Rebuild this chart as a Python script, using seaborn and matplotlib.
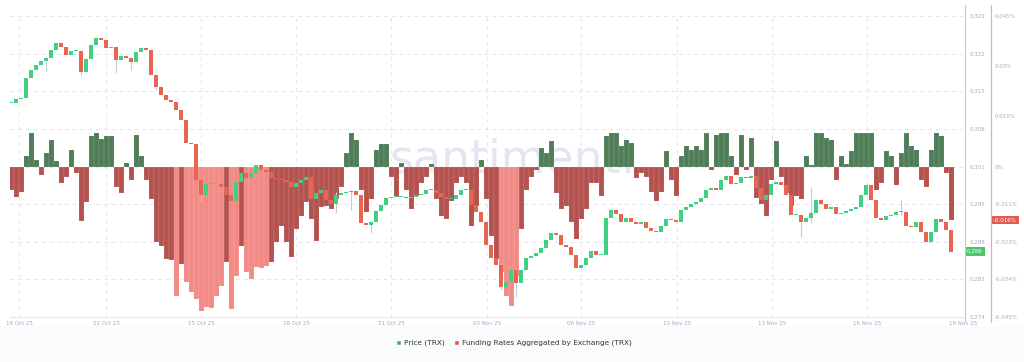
import numpy as np
import pandas as pd
import matplotlib
matplotlib.use("Agg")
import matplotlib.pyplot as plt
import matplotlib.transforms as mtransforms
from matplotlib.patches import Patch, Rectangle
from matplotlib.lines import Line2D
import seaborn as sns

# ---------------- data ----------------
price_close = [
    0.3131, 0.3138, 0.3140, 0.3177, 0.3191, 0.3200, 0.3208, 0.3213, 0.3228, 0.3241,
    0.3233, 0.3219, 0.3226, 0.3226, 0.3188, 0.3211, 0.3237, 0.3250, 0.3246, 0.3232,
    0.3233, 0.3210, 0.3217, 0.3213, 0.3206, 0.3224, 0.3232, 0.3228, 0.3182, 0.3160,
    0.3146, 0.3137, 0.3133, 0.3118, 0.3100, 0.3058, 0.3056, 0.2990, 0.2963, 0.2983,
    0.2983, 0.2983, 0.2978, 0.2963, 0.2952, 0.2987, 0.3003, 0.2994, 0.3003, 0.3018,
    0.3009, 0.3005, 0.2994, 0.2992, 0.2990, 0.2987, 0.2978, 0.2985, 0.2990, 0.2996,
    0.2956, 0.2967, 0.2972, 0.2954, 0.2947, 0.2963, 0.2967, 0.2968, 0.2970, 0.2963,
    0.2912, 0.2908, 0.2914, 0.2934, 0.2945, 0.2957, 0.2959, 0.2959, 0.2959, 0.2957,
    0.2959, 0.2963, 0.2965, 0.2972, 0.2972, 0.2967, 0.2959, 0.2956, 0.2956, 0.2963,
    0.2972, 0.2972, 0.2945, 0.2932, 0.2914, 0.2872, 0.2848, 0.2835, 0.2795, 0.2804,
    0.2826, 0.2802, 0.2826, 0.2848, 0.2852, 0.2857, 0.2866, 0.2881, 0.2894, 0.2890,
    0.2872, 0.2868, 0.2853, 0.2830, 0.2835, 0.2848, 0.2861, 0.2853, 0.2853, 0.2921,
    0.2936, 0.2928, 0.2914, 0.2921, 0.2914, 0.2910, 0.2914, 0.2903, 0.2897, 0.2895,
    0.2906, 0.2919, 0.2917, 0.2914, 0.2936, 0.2941, 0.2947, 0.2950, 0.2957, 0.2972,
    0.2976, 0.2972, 0.2990, 0.2998, 0.2983, 0.2985, 0.2996, 0.2994, 0.2998, 0.2976,
    0.2954, 0.2963, 0.2983, 0.2987, 0.2981, 0.2963, 0.2926, 0.2926, 0.2914, 0.2921,
    0.2930, 0.2954, 0.2947, 0.2937, 0.2941, 0.2928, 0.2930, 0.2934, 0.2937, 0.2941,
    0.2963, 0.2981, 0.2954, 0.2921, 0.2917, 0.2925, 0.2926, 0.2932, 0.2932, 0.2906,
    0.2904, 0.2914, 0.2895, 0.2877, 0.2895, 0.2919, 0.2914, 0.2899, 0.2859,
]

# notable candle wicks: index -> (low, high)
price_wicks = {
    7: (0.3188, 0.3215), 14: (0.3180, 0.3228), 21: (0.3186, 0.3234),
    24: (0.3191, 0.3215), 29: (0.3155, 0.3184), 38: (0.2950, 0.2992),
    65: (0.2930, 0.2968), 68: (0.2935, 0.2972), 72: (0.2894, 0.2916),
    98: (0.2789, 0.2836), 101: (0.2777, 0.2828), 158: (0.2886, 0.2928),
    160: (0.2912, 0.2978), 178: (0.2925, 0.2954),
}

# funding rate, percent
funding_rate = [
    -0.0070, -0.0092, -0.0075, 0.0030, 0.0100, 0.0020, -0.0024, 0.0040, 0.0080, 0.0015,
    -0.0048, -0.0030, 0.0050, -0.0020, -0.0164, -0.0107, 0.0090, 0.0100, 0.0083, 0.0090,
    0.0090, -0.0060, -0.0078, 0.0010, -0.0040, 0.0095, 0.0030, -0.0040, -0.0098, -0.0227,
    -0.0238, -0.0277, -0.0280, -0.0387, -0.0292, -0.0346, -0.0375, -0.0396, -0.0432, -0.0420,
    -0.0423, -0.0387, -0.0358, -0.0286, -0.0426, -0.0328, -0.0238, -0.0316, -0.0337, -0.0301,
    -0.0304, -0.0298, -0.0286, -0.0227, -0.0179, -0.0227, -0.0271, -0.0188, -0.0149, -0.0107,
    -0.0158, -0.0224, -0.0120, -0.0119, -0.0128, -0.0098, -0.0060, 0.0040, 0.0100, 0.0080,
    -0.0069, -0.0137, -0.0098, 0.0050, 0.0066, 0.0066, -0.0030, -0.0090, 0.0010, -0.0070,
    -0.0128, -0.0089, -0.0049, -0.0030, 0.0006, -0.0098, -0.0149, -0.0158, -0.0103, -0.0049,
    -0.0030, -0.0050, -0.0179, -0.0119, 0.0020, -0.0098, -0.0209, -0.0277, -0.0316, -0.0387,
    -0.0417, -0.0328, -0.0188, -0.0069, -0.0030, -0.0010, 0.0056, 0.0040, 0.0075, -0.0078,
    -0.0128, -0.0119, -0.0167, -0.0218, -0.0158, -0.0128, -0.0049, -0.0050, -0.0089, 0.0090,
    0.0100, 0.0100, 0.0060, 0.0080, 0.0070, -0.0035, -0.0020, -0.0030, -0.0075, -0.0103,
    -0.0075, 0.0046, -0.0040, -0.0089, 0.0030, 0.0060, 0.0050, 0.0060, 0.0050, 0.0100,
    -0.0010, 0.0095, 0.0100, 0.0100, 0.0030, -0.0024, 0.0095, -0.0010, 0.0085, -0.0093,
    -0.0113, -0.0149, -0.0040, 0.0075, -0.0030, -0.0078, -0.0119, -0.0089, -0.0098, 0.0030,
    0.0005, 0.0100, 0.0100, 0.0085, 0.0080, -0.0040, 0.0030, 0.0006, 0.0047, 0.0100,
    0.0100, 0.0100, 0.0100, -0.0069, -0.0050, 0.0046, 0.0030, -0.0054, 0.0040, 0.0100,
    0.0060, 0.0050, -0.0040, -0.0060, 0.0050, 0.0100, 0.0090, -0.0020, -0.0160,
]

date_labels = ["18 Oct 25", "22 Oct 25", "25 Oct 25", "28 Oct 25", "31 Oct 25", "03 Nov 25",
               "06 Nov 25", "10 Nov 25", "13 Nov 25", "16 Nov 25", "19 Nov 25"]
date_positions = [1.6, 19.0, 38.0, 57.0, 76.0, 95.2, 114.0, 133.2, 152.2, 171.2, 190.4]

price_ticks = [0.274, 0.280875, 0.28775, 0.294625, 0.3015, 0.308375, 0.31525, 0.322125, 0.329]
price_tick_labels = ["0.274", "0.281", "0.288", "0.295", "0.301", "0.308", "0.315", "0.322", "0.329"]
funding_ticks = [-0.045, -0.03375, -0.0225, -0.01125, 0.0, 0.015, 0.03, 0.045]
funding_tick_labels = ["-0.045%", "-0.034%", "-0.023%", "-0.011%", "0%", "0.015%", "0.03%", "0.045%"]

# ---------------- style ----------------
sns.set_theme(style="white")
plt.rcParams['font.family'] = ['DejaVu Sans']

W, H = 1024, 362
fig = plt.figure(figsize=(W / 100, H / 100), dpi=100)
fig.patch.set_facecolor("white")
fig.add_artist(Rectangle((0, 0), 1, 36 / H, transform=fig.transFigure,
                         facecolor="#fafbfc", edgecolor="none", zorder=0))

L, R, T, B = 10, 963, 16, 317
ax_f = fig.add_axes([L / W, 1 - B / H, (R - L) / W, (B - T) / H])
ax_p = ax_f.twinx()
ax_p.patch.set_visible(False)

TICK_COLOR = "#a3aabb"
GRID_COLOR = "#e4e6ec"

# ---------------- funding bars ----------------
df_f = pd.DataFrame({"i": np.arange(len(funding_rate)), "rate": funding_rate})
df_f["kind"] = np.where(df_f["rate"] >= 0, "pos",
                        np.where(df_f["rate"] < -0.0295, "deep", "neg"))
palette = {"pos": "#4f7d58", "neg": "#b4524f", "deep": "#f28a85"}
sns.barplot(data=df_f, x="i", y="rate", hue="kind", palette=palette,
            native_scale=True, dodge=False, errorbar=None, legend=False,
            width=1.0, saturation=1, linewidth=0.35, edgecolor=(1, 1, 1, 0.22),
            ax=ax_f, zorder=2)

# watermark
ax_f.text(0.528, 0.52, "santiment.", transform=ax_f.transAxes, ha="center", va="center",
          fontsize=33, color="#e3e6f1", zorder=0.5)

# grid
for p in price_ticks:
    frac = (p - price_ticks[0]) / (price_ticks[-1] - price_ticks[0])
    ax_f.plot([0, 1.0], [frac, frac], transform=ax_f.transAxes, color=GRID_COLOR,
              lw=0.7, ls=(0, (4, 4)), zorder=0.4)
for xp in date_positions:
    ax_f.axvline(xp, color=GRID_COLOR, lw=0.7, ls=(0, (4, 4)), zorder=0.4)

ax_f.set_xlim(-0.2, 190.4)
ax_f.set_ylim(-0.045, 0.045)
ax_f.set_xticks(date_positions, date_labels)
ax_f.tick_params(axis="x", length=0, pad=3, labelsize=4, labelcolor=TICK_COLOR)
ax_f.yaxis.tick_right()
ax_f.set_yticks(funding_ticks, funding_tick_labels)
ax_f.tick_params(axis="y", length=0, pad=23, labelsize=4, labelcolor=TICK_COLOR,
                 left=False, labelleft=False, right=False, labelright=True)
ax_f.set_xlabel("")
ax_f.set_ylabel("")
for s in ax_f.spines.values():
    s.set_visible(False)
ax_f.spines["bottom"].set_visible(True)
ax_f.spines["bottom"].set_color("#e6e7ec")
ax_f.spines["bottom"].set_linewidth(0.8)

# ---------------- candles ----------------
close = np.array(price_close)
opens = np.concatenate([[close[0]], close[:-1]])
idx = np.arange(len(close))
up = close >= opens
body_bottom = np.minimum(opens, close)
body_h = np.maximum(np.abs(close - opens), 0.00018)
for i, (lo, hi) in price_wicks.items():
    ax_p.vlines(i, lo, hi, color="#c4c9dd", lw=0.8, zorder=2)
ax_p.bar(idx, body_h, bottom=body_bottom, width=0.72,
         color=np.where(up, "#3fd084", "#e9654f"), linewidth=0, zorder=3)

ax_p.set_ylim(price_ticks[0], price_ticks[-1])
ax_p.set_yticks(price_ticks, price_tick_labels)
ax_p.tick_params(axis="y", length=0, pad=4.5, labelsize=4, labelcolor=TICK_COLOR)
ax_p.set_xlim(-0.2, 190.4)
for s in ax_p.spines.values():
    s.set_visible(False)

# axis lines
fig.add_artist(Line2D([965 / W, 965 / W], [1 - 5 / H, 1 - 322 / H], color="#a9e3ac", lw=0.9))
fig.add_artist(Line2D([991 / W, 991 / W], [1 - 5 / H, 1 - 322 / H], color="#f0aaa6", lw=0.9))

# last value badges
tr_p = mtransforms.blended_transform_factory(ax_p.transAxes, ax_p.transData)
ax_p.text((967 - L) / (R - L), close[-1], f"{close[-1]:.3f}", transform=tr_p,
          ha="left", va="center", fontsize=4, color="white",
          bbox=dict(boxstyle="square,pad=0.35", fc="#4cc46a", ec="none"), clip_on=False)
tr_f = mtransforms.blended_transform_factory(ax_f.transAxes, ax_f.transData)
ax_f.text((994 - L) / (R - L), funding_rate[-1], f"{funding_rate[-1]:.3f}%", transform=tr_f,
          ha="left", va="center", fontsize=4, color="white",
          bbox=dict(boxstyle="square,pad=0.35", fc="#e25a50", ec="none"), clip_on=False)

# legend
handles = [Patch(facecolor="#4caf50", label="Price (TRX)"),
           Patch(facecolor="#e0564c", label="Funding Rates Aggregated by Exchange (TRX)")]
fig.legend(handles=handles, loc="center", bbox_to_anchor=(514 / W, 1 - 343 / H), ncol=2,
           frameon=False, fontsize=5.3, handlelength=0.7, handleheight=0.7,
           handletextpad=0.4, columnspacing=1.2, labelcolor="#333333")

fig.savefig("out.png", dpi=100, facecolor="white")
